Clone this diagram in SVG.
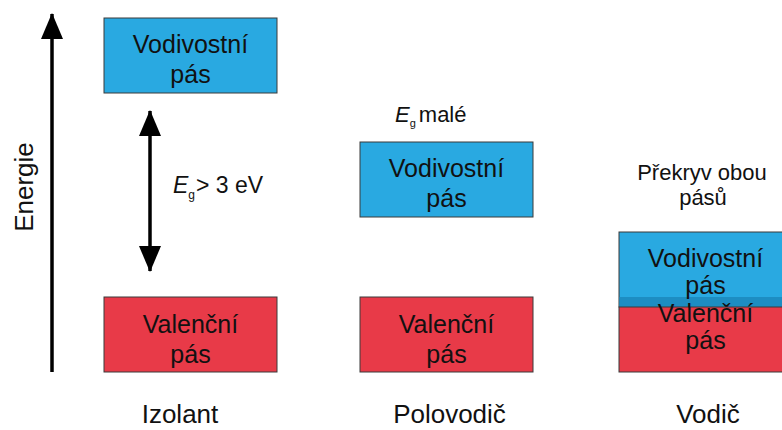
<svg xmlns="http://www.w3.org/2000/svg" width="782" height="430" viewBox="0 0 782 430">
<style>
text{font-family:"Liberation Sans",Arial,sans-serif;fill:#111}
.box{font-size:25px;text-anchor:middle}
.lbl{font-size:26px;text-anchor:middle}
.cb{fill:#29a9e1;stroke:#3a3a3a;stroke-width:1}
.vb{fill:#e83a48;stroke:#3a3a3a;stroke-width:1}
.ax{stroke:#000;stroke-width:3.5;fill:none}
</style>
<defs>
<marker id="ah" markerUnits="userSpaceOnUse" viewBox="0 0 26 22" refX="25" refY="11" markerWidth="26" markerHeight="22" orient="auto-start-reverse">
<path d="M0,0 L26,11 L0,22 Z" fill="#000"/>
</marker>
</defs>
<rect width="782" height="430" fill="#fff"/>
<g id="connectors">
<line class="ax" x1="52" y1="372" x2="52" y2="14" marker-end="url(#ah)"/>
<line class="ax" x1="150" y1="111" x2="150" y2="271" marker-start="url(#ah)" marker-end="url(#ah)"/>
</g>
<g id="energie"><text class="lbl" transform="translate(33,187) rotate(-90)">Energie</text></g>
<g id="izolant-vodivostni"><rect class="cb" x="104" y="18" width="173" height="75"/><text class="box" x="190.5" y="53">Vodivostní</text><text class="box" x="190.5" y="83">pás</text></g>
<g id="izolant-valencni"><rect class="vb" x="104" y="297" width="173" height="75"/><text class="box" x="190.5" y="333">Valenční</text><text class="box" x="190.5" y="363">pás</text></g>
<g id="eg-izolant"><text x="173" y="193" style="font-size:23px"><tspan font-style="italic">E</tspan><tspan font-size="12" dy="6">g</tspan><tspan dy="-6" dx="1">&gt; 3 eV</tspan></text></g>
<g id="izolant-label"><text class="lbl" x="180" y="423">Izolant</text></g>
<g id="eg-polovodic"><text x="395" y="122" style="font-size:22px"><tspan font-style="italic">E</tspan><tspan font-size="11" dy="5">g</tspan><tspan dy="-5" dx="3">malé</tspan></text></g>
<g id="polovodic-vodivostni"><rect class="cb" x="360" y="142" width="173" height="75"/><text class="box" x="446.5" y="177">Vodivostní</text><text class="box" x="446.5" y="207">pás</text></g>
<g id="polovodic-valencni"><rect class="vb" x="360" y="297" width="173" height="75"/><text class="box" x="446.5" y="333">Valenční</text><text class="box" x="446.5" y="363">pás</text></g>
<g id="polovodic-label"><text class="lbl" x="449.5" y="423">Polovodič</text></g>
<g id="prekryv"><text x="702" y="180" style="font-size:22px;text-anchor:middle">Překryv obou</text><text x="703" y="205" style="font-size:22px;text-anchor:middle">pásů</text></g>
<g id="vodic-pasy">
<rect class="cb" x="619" y="232" width="173" height="75"/>
<rect x="619.5" y="297" width="172" height="10" fill="#1d8dc2"/>
<rect class="vb" x="619" y="307" width="173" height="65"/>
<text class="box" x="705.5" y="267">Vodivostní</text><text class="box" x="705.5" y="294">pás</text>
<text class="box" x="705.5" y="322">Valenční</text><text class="box" x="705.5" y="349">pás</text>
</g>
<g id="vodic-label"><text class="lbl" x="708" y="423">Vodič</text></g>
</svg>
